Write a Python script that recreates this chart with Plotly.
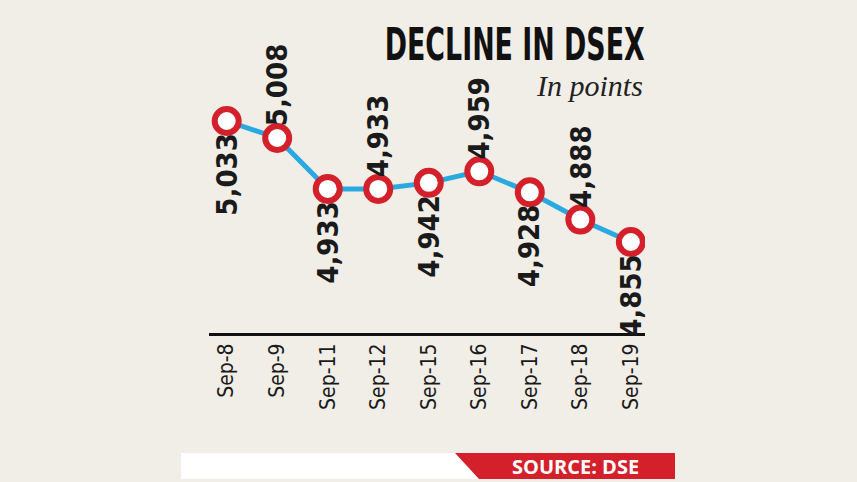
import plotly.graph_objects as go

# ---- data ----
dates = ["Sep-8", "Sep-9", "Sep-11", "Sep-12", "Sep-15", "Sep-16", "Sep-17", "Sep-18", "Sep-19"]
values = [5033, 5008, 4933, 4933, 4942, 4959, 4928, 4888, 4855]
label_side = ["below", "above", "below", "above", "below", "above", "below", "above", "below"]
title_text = "DECLINE IN DSEX"
subtitle_text = "In points"
source_text = "SOURCE: DSE"

# ---- layout geometry (pixels) ----
W, H = 857, 482
ML, MR, MT, MB = 209, 212, 20, 149
PW, PH = W - ML - MR, H - MT - MB

def px(x):
    return (x - ML) / PW

def py(y):
    return (H - MB - y) / PH

BG = "#f1eee8"
RED = "#d4202a"
BLUE = "#2aa9e0"
INK = "#1a1a1a"
COND = "'DejaVu Sans Condensed', 'Liberation Sans Narrow', sans-serif"

fig = go.Figure()
fig.add_trace(go.Scatter(
    x=dates, y=values, mode="lines+markers",
    line=dict(color=BLUE, width=5),
    marker=dict(size=24, color="white", line=dict(color=RED, width=6)),
    hoverinfo="skip", showlegend=False,
))

annotations = []
for d, v, side in zip(dates, values, label_side):
    annotations.append(dict(
        x=d, y=v, xref="x", yref="y", text=f"{v:,}", showarrow=False,
        textangle=-90, xanchor="center", yanchor="middle",
        yshift=53 if side == "above" else -53,
        font=dict(family=COND, size=29, color=INK, weight="bold"),
    ))

annotations.append(dict(
    x=px(514), y=py(44), xref="paper", yref="paper", text=title_text, showarrow=False,
    xanchor="center", yanchor="middle",
    font=dict(family=COND, size=44, color="#111111", weight="bold"),
))
annotations.append(dict(
    x=px(645), y=py(85), xref="paper", yref="paper", text=subtitle_text, showarrow=False,
    xanchor="right", yanchor="middle",
    font=dict(family="Liberation Serif", size=30, color="#222222", style="italic"),
))
annotations.append(dict(
    x=px(575), y=py(466), xref="paper", yref="paper", text=source_text, showarrow=False,
    xanchor="center", yanchor="middle",
    font=dict(family="Open Sans", size=20, color="white", weight="bold"),
))

shapes = [
    dict(type="rect", xref="paper", yref="paper", x0=px(181), x1=px(480), y0=py(479), y1=py(453),
         fillcolor="white", line=dict(width=0), layer="below"),
    dict(type="path", xref="paper", yref="paper",
         path=f"M {px(455)} {py(453)} L {px(675)} {py(453)} L {px(675)} {py(479)} L {px(479)} {py(479)} Z",
         fillcolor=RED, line=dict(width=0), layer="above"),
]

fig.update_layout(
    width=W, height=H, autosize=False,
    margin=dict(l=ML, r=MR, t=MT, b=MB, pad=0),
    paper_bgcolor=BG, plot_bgcolor=BG,
    annotations=annotations, shapes=shapes,
    xaxis=dict(
        type="category", range=[-0.35, 8.28],
        showgrid=False, zeroline=False,
        showline=True, linecolor="#111111", linewidth=3,
        tickangle=-90, ticks="", ticklabelstandoff=-1,
        tickfont=dict(family=COND, size=21, color=INK),
    ),
    yaxis=dict(
        range=[4721.1, 5181.6], visible=False, showgrid=False, zeroline=False,
    ),
)

post = """
var gd = document.getElementById('{plot_id}');
function squeeze(){
  gd.querySelectorAll('text.annotation-text').forEach(function(t){
    if (t.textContent === 'DECLINE IN DSEX') {
      t.setAttribute('textLength', '260');
      t.setAttribute('lengthAdjust', 'spacingAndGlyphs');
    }
  });
}
squeeze();
if (gd.on) { gd.on('plotly_afterplot', squeeze); }
"""

fig.write_html("out.html", include_plotlyjs=True, config={"displayModeBar": False}, post_script=post)
